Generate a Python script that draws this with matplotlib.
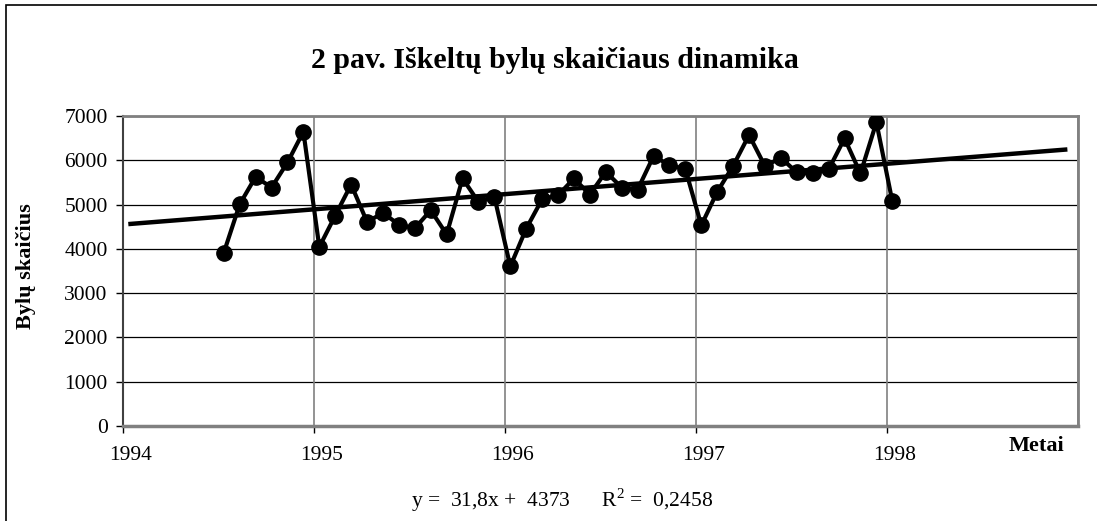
import numpy as np
import matplotlib
matplotlib.use("Agg")
import matplotlib.pyplot as plt
from matplotlib.patches import Rectangle
from matplotlib.transforms import ScaledTranslation, blended_transform_factory

# Monthly values, July 1994 .. January 1998
start_year = 1994
start_month = 7
values = [3913, 5008, 5626, 5385, 5951, 6645,
          4042, 4751, 5453, 4608, 4811, 4547, 4464, 4872, 4328, 5589, 5060, 5174,
          3604, 4457, 5121, 5211, 5589, 5226, 5740, 5385, 5340, 6094, 5891, 5800,
          4532, 5287, 5875, 6570, 5868, 6057, 5725, 5702, 5792, 6494, 5702, 6857,
          5075]
x_ticks = [1994, 1995, 1996, 1997, 1998]
y_ticks = [0, 1000, 2000, 3000, 4000, 5000, 6000, 7000]
title = "2 pav. Iškeltų bylų skaičiaus dinamika"
ylabel = "Bylų skaičius"
xlabel = "Metai"
equation = "y =  31,8x +  4373      R$^{2}$ =  0,2458"
trend_backward = 6
trend_forward = 11

plt.rcParams['font.family'] = ['Liberation Serif', 'DejaVu Serif']
plt.rcParams['mathtext.fontset'] = 'custom'
plt.rcParams['mathtext.rm'] = 'Liberation Serif'

W, H = 1097, 521
fig = plt.figure(figsize=(W / 100, H / 100), dpi=100)

# outer frame
fig.patches.append(Rectangle((6 / W, -0.05), 1.2, (H - 5) / H + 0.05,
                             transform=fig.transFigure, fill=False,
                             edgecolor='black', linewidth=1.2))

left, right, top, bottom = 123, 1078, 116, 426
ax = fig.add_axes([left / W, 1 - bottom / H, (right - left) / W, (bottom - top) / H])

n = len(values)
idx = np.arange(n)
xs = start_year + (start_month - 1 + idx + 1 / 3) / 12.0

# trend line (least squares), extended backward/forward
coef = np.polyfit(idx + 1, values, 1)
tx = np.array([1 - trend_backward, n + trend_forward])
txs = start_year + (start_month - 1 + (tx - 1) + 1 / 3) / 12.0
ax.plot(txs, np.polyval(coef, tx), color='black', linewidth=3.2, solid_capstyle='butt', zorder=3)

ax.plot(xs, values, color='black', linewidth=3.0, marker='o', markersize=11,
        markerfacecolor='black', markeredgecolor='black', zorder=4)

ax.set_xlim(1994, 1999)
ax.set_ylim(0, 7000)
ax.set_xticks(x_ticks)
ax.set_yticks(y_ticks)
ax.set_xticklabels([])
ax.set_yticklabels([str(t) for t in y_ticks], fontsize=15.5)

# x tick labels, drawn slightly right of the ticks (as in the original)
trans = blended_transform_factory(ax.transData, ax.transAxes) + \
    ScaledTranslation(8 / 100, -29 / 100, fig.dpi_scale_trans)
for t in x_ticks:
    ax.text(t, 0, str(t), transform=trans, ha='center', va='center', fontsize=15.5)

for y in y_ticks:
    ax.axhline(y, color='black', linewidth=0.9, zorder=1)
for x in x_ticks[1:] + [1999]:
    ax.axvline(x, color='#808080', linewidth=1.2, zorder=1)

for s in ['top', 'right']:
    ax.spines[s].set_color('#808080')
    ax.spines[s].set_linewidth(2)
ax.spines['left'].set_color('#404040')
ax.spines['left'].set_linewidth(1.5)
ax.spines['bottom'].set_color('#808080')
ax.spines['bottom'].set_linewidth(2.5)
ax.tick_params(axis='both', direction='out', length=5, width=1, color='black')
ax.tick_params(axis='y', pad=6)

fig.text(555 / W, 1 - 60 / H, title, ha='center', va='center', fontsize=21.5, fontweight='bold')
fig.text(26 / W, 1 - 266 / H, ylabel, ha='center', va='center', rotation=90, fontsize=16, fontweight='bold')
fig.text(1036 / W, 1 - 446 / H, xlabel, ha='center', va='center', fontsize=16, fontweight='bold')
fig.text(562 / W, 1 - 500 / H, equation, ha='center', va='center', fontsize=15.5)

fig.savefig("out.png", dpi=100)
